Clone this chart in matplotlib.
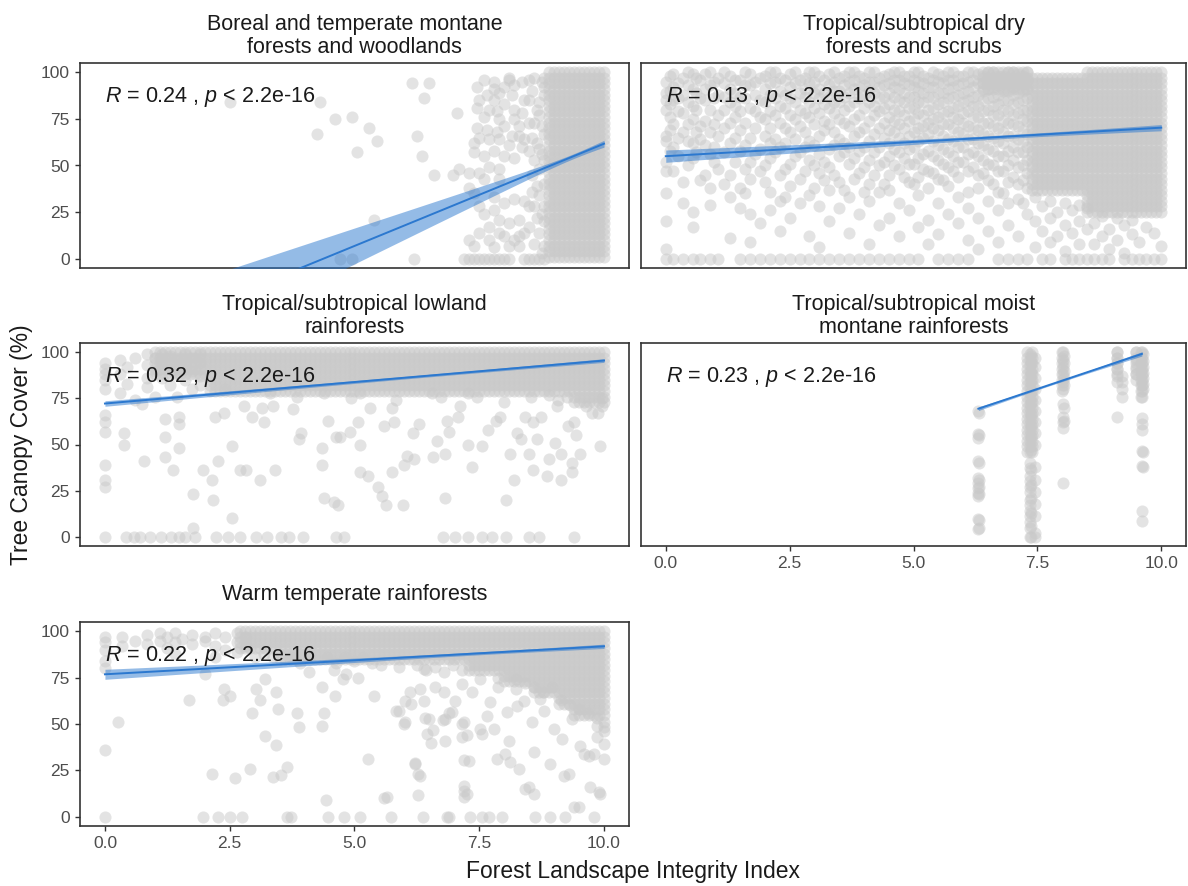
import numpy as np
import matplotlib
matplotlib.use("Agg")
import matplotlib.pyplot as plt

plt.rcParams['font.family'] = ['Liberation Sans', 'DejaVu Sans']
plt.rcParams['mathtext.fontset'] = 'custom'
plt.rcParams['mathtext.it'] = 'Liberation Sans:italic'
plt.rcParams['mathtext.rm'] = 'Liberation Sans'

# ---------------- data (x = Forest Landscape Integrity Index, y = Tree Canopy Cover %) ----------------
# individually readable points, grouped as (x, [y values at that x])
boreal_cols = [
    (2.5, [84]), (4.25, [67]), (4.3, [84]), (4.6, [75]), (4.7, [0]), (4.95, [76, 0]), (5.05, [57]),
    (5.3, [70]), (5.4, [21]), (5.45, [63]), (6.15, [94]), (6.2, [0]), (6.25, [66]), (6.35, [55]),
    (6.4, [86]), (6.5, [94]), (6.6, [45]), (6.98, [45]), (7.05, [78]), (7.1, [48]), (7.2, [0]),
    (7.3, [46, 38, 10, 0]), (7.4, [62, 57, 35, 7, 0]), (7.45, [92, 81, 70]),
    (7.5, [85, 65, 46, 28, 14, 0]), (7.6, [96, 76, 55, 43, 24, 0]), (7.65, [88, 69]),
    (7.7, [80, 64, 49, 17, 10, 0]), (7.8, [95, 91, 85, 58, 33, 26, 6, 0]), (7.85, [79, 68]),
    (7.9, [89, 75, 64, 48, 43, 21, 14, 0]), (8.0, [92, 83, 71, 55, 30, 12, 0]),
    (8.1, [97, 96, 61, 19, 7, 0]), (8.15, [88, 66]), (8.2, [93, 80, 75, 54, 32, 10]),
    (8.3, [71, 66, 21, 12, 7]), (8.35, [95, 78, 60]), (8.4, [85, 64, 31, 14, 0]),
    (8.5, [96, 85, 73, 58, 28, 17, 0]), (8.55, [90, 65, 45, 36]), (8.6, [97, 73, 53, 28, 8, 0]),
    (8.65, [80, 62, 39, 22]), (8.7, [84, 77, 59, 48, 34, 14, 0]), (8.75, [95, 71, 56, 24, 3]),
    (8.8, [97, 92, 88, 67, 53, 40, 28, 20, 7, 0]),
]

dry_cols = [
    (0.0, [95, 89, 85, 80, 66, 63, 52, 47, 35, 20, 5, 0]),
    (0.15, [99, 92, 85, 72, 60, 47, 0]), (0.35, [97, 88, 78, 68, 41, 30, 0]),
    (0.55, [99, 91, 82, 75, 62, 54, 25, 17, 0]), (0.7, [96, 86, 71, 64, 42, 0]),
    (0.9, [100, 93, 80, 68, 56, 38, 29, 0]), (1.05, [97, 88, 77, 66, 48, 0]),
    (1.3, [98, 91, 84, 73, 62, 45, 33, 11]), (1.5, [96, 87, 79, 69, 58, 38, 27, 0]),
    (1.7, [99, 93, 81, 65, 52, 43, 24, 9, 0]), (1.9, [97, 85, 76, 59, 47, 19, 0]),
    (2.1, [100, 94, 88, 79, 70, 62, 54, 36, 26, 0]), (2.3, [97, 90, 82, 73, 60, 45, 31, 15, 0]),
    (2.5, [99, 92, 86, 77, 68, 51, 39, 22, 0]), (2.7, [96, 89, 80, 71, 57, 43, 30, 0]),
    (2.9, [100, 94, 84, 76, 63, 53, 34, 12, 0]), (3.1, [98, 91, 86, 78, 66, 56, 46, 28, 6, 0]),
    (3.3, [99, 93, 87, 81, 72, 59, 49, 37, 20, 0]), (3.5, [97, 90, 84, 75, 64, 55, 41, 27, 0]),
    (3.7, [100, 95, 89, 82, 71, 60, 51, 33, 14, 0]), (3.9, [98, 92, 86, 77, 68, 58, 46, 24, 0]),
    (4.1, [100, 95, 90, 84, 74, 63, 53, 40, 31, 8, 0]), (4.3, [97, 92, 86, 79, 70, 60, 50, 36, 18, 0]),
    (4.5, [99, 94, 89, 83, 76, 69, 62, 55, 45, 37, 22, 0]),
    (4.7, [100, 96, 91, 85, 79, 72, 65, 57, 48, 30, 12, 0]),
    (4.9, [98, 93, 87, 81, 74, 66, 59, 51, 41, 26, 0]),
    (5.1, [100, 95, 90, 84, 78, 70, 63, 54, 44, 34, 17, 0]),
    (5.3, [97, 92, 87, 80, 73, 67, 58, 47, 38, 21, 8]),
    (5.5, [99, 95, 89, 83, 76, 69, 61, 53, 43, 30, 13, 0]),
    (5.7, [100, 96, 91, 86, 79, 72, 64, 57, 49, 39, 24, 0]),
    (5.9, [98, 93, 88, 82, 75, 68, 60, 52, 44, 33, 19, 0]),
    (6.1, [100, 95, 90, 85, 79, 71, 64, 56, 47, 36, 27, 10, 0]),
    (6.3, [99, 94, 88, 82, 76, 69, 62, 55, 45, 38, 22, 5]),
    (6.5, [100, 96, 91, 86, 80, 73, 66, 59, 51, 42, 31, 15]),
    (6.7, [98, 93, 88, 83, 77, 70, 63, 55, 47, 36, 26, 9, 0]),
    (6.9, [100, 95, 90, 85, 79, 73, 66, 58, 50, 41, 30, 18, 0]),
    (7.1, [99, 94, 89, 84, 78, 71, 64, 57, 49, 40, 32, 12, 0]),
    (7.3, [100, 96, 91, 86, 80, 74, 67, 60, 53, 46, 38, 24, 0]),
    (0.08, [98, 90, 83, 76, 69, 58]), (0.25, [94, 86, 79, 65, 55]), (0.45, [100, 93, 84, 72, 63, 50]),
    (0.62, [97, 89, 80, 68, 57]), (0.8, [99, 91, 85, 74, 61, 45]), (0.98, [95, 86, 72, 60, 52]),
    (1.17, [100, 94, 87, 80, 70, 57, 40]), (1.4, [96, 89, 82, 76, 65, 52]),
    (1.6, [100, 93, 86, 73, 61, 48, 35]), (1.8, [95, 88, 79, 70, 56]),
    (2.0, [98, 91, 84, 75, 66, 50, 41]), (2.2, [100, 95, 86, 77, 64, 57]),
    (2.4, [96, 88, 81, 70, 62, 48, 33]), (2.6, [100, 94, 84, 75, 64, 55]),
    (2.8, [97, 91, 87, 78, 68, 60, 47]), (3.0, [100, 95, 89, 81, 72, 61, 50, 38]),
    (3.2, [96, 89, 83, 74, 69, 52, 42]), (3.4, [100, 95, 90, 84, 78, 68, 61, 45]),
    (3.6, [98, 93, 87, 80, 73, 62, 57, 37]), (3.8, [100, 96, 91, 84, 75, 66, 54, 43]),
    (4.0, [97, 93, 88, 81, 70, 60, 49, 36]), (4.2, [100, 95, 89, 82, 77, 67, 57, 45]),
    (4.4, [98, 93, 87, 81, 73, 65, 52, 40]), (4.6, [100, 96, 92, 87, 80, 74, 68, 59, 50]),
    (4.8, [98, 94, 89, 84, 77, 70, 62, 54, 44]), (5.0, [100, 96, 92, 87, 81, 75, 68, 60, 51, 40]),
    (5.2, [98, 94, 89, 84, 77, 71, 65, 56, 48]), (5.4, [100, 96, 92, 87, 81, 75, 70, 63, 55, 46]),
    (5.6, [98, 94, 89, 84, 78, 72, 66, 59, 51, 42]), (5.8, [100, 96, 92, 87, 81, 76, 70, 63, 55, 47]),
    (6.0, [98, 94, 89, 84, 78, 73, 67, 60, 52]), (6.2, [100, 96, 92, 87, 82, 76, 70, 64, 57, 49]),
    (6.4, [98, 94, 90, 85, 79, 73, 67, 61, 53, 46]), (6.6, [100, 96, 92, 87, 82, 77, 71, 65, 58, 50, 40]),
    (6.8, [98, 94, 90, 85, 80, 74, 68, 62, 55, 47, 35]), (7.0, [100, 96, 92, 88, 83, 77, 72, 66, 60, 53, 44]),
    (7.2, [98, 94, 90, 85, 80, 75, 69, 63, 57, 50, 42, 30]),
    (7.45, [33, 20, 6]), (7.6, [28, 15, 0]), (7.75, [31, 22, 9, 0]), (7.9, [25, 12]),
    (8.05, [30, 18, 4, 0]), (8.2, [26, 14, 0]), (8.35, [29, 20, 8, 0]), (8.5, [27, 16, 0]),
    (8.65, [19, 8, 0]), (8.8, [23, 12, 0]), (8.95, [16, 5, 0]), (9.1, [22, 10]),
    (9.25, [18, 3, 0]), (9.4, [21, 13, 0]), (9.55, [9, 0]), (9.7, [17, 0]), (9.85, [14, 0]),
    (10.0, [7, 0]),
]

lowland_cols = [
    (0.0, [94, 91, 88, 85, 80, 66, 62, 57, 39, 31, 27, 0]),
    (0.3, [96, 88, 78]), (0.38, [56, 50]), (0.42, [0]), (0.45, [92, 83]), (0.59, [0]),
    (0.6, [97, 74]), (0.71, [0]), (0.75, [72]), (0.79, [41]), (0.85, [99, 93, 86, 81]),
    (0.91, [0]), (1.0, [97, 90, 76]), (1.12, [0]), (1.15, [99, 94, 86]), (1.2, [64, 54, 43]),
    (1.3, [98, 91, 82]), (1.32, [0]), (1.36, [36]), (1.45, [96, 89, 76]), (1.48, [65, 61, 48, 0]),
    (1.6, [99, 93, 85, 0]), (1.75, [97, 90, 80]), (1.77, [23, 5]), (1.81, [0]),
    (1.9, [99, 94, 87, 82]), (1.97, [36]),
    (2.41, [80]), (3.31, [78]), (3.85, [76]), (4.39, [78]), (4.93, [75]), (5.11, [78]),
    (5.83, [74]), (6.55, [78]), (6.73, [76]), (7.27, [78]), (7.45, [76]), (7.99, [73]),
    (8.53, [76]), (8.89, [77]), (9.07, [74]), (9.25, [76]),
    (2.14, [31]), (2.17, [20]), (2.2, [65]), (2.22, [0]), (2.26, [41]), (2.38, [67]), (2.46, [0]),
    (2.54, [49, 10]), (2.7, [36]), (2.71, [0]), (2.79, [71]), (2.83, [36]), (2.95, [65]), (3.03, [0]),
    (3.11, [31]), (3.15, [70]), (3.19, [62]), (3.24, [0]), (3.36, [71]), (3.4, [36]), (3.52, [0]),
    (3.68, [0]), (3.77, [69]), (3.89, [53]), (3.93, [56]), (3.97, [0]), (4.34, [48, 39]), (4.38, [21]),
    (4.46, [63]), (4.58, [19]), (4.62, [54, 0]), (4.66, [17]), (4.7, [54]), (4.78, [0]), (4.9, [57]),
    (5.07, [62]), (5.11, [50, 35]), (5.27, [33]), (5.31, [70]), (5.48, [27]), (5.56, [22]), (5.6, [60]),
    (5.64, [17]), (5.76, [35, 70]), (5.8, [62]), (5.97, [17]), (6.0, [39]), (6.05, [44]), (6.17, [56]),
    (6.2, [42]), (6.3, [61]), (6.58, [43]), (6.66, [52]), (6.78, [0]), (6.82, [21, 45]), (6.86, [63]),
    (6.9, [57]), (7.02, [0]), (7.07, [65]), (7.11, [71]), (7.27, [50, 0]), (7.35, [38]), (7.55, [49, 0]),
    (7.68, [58]), (7.76, [0]), (7.84, [63]), (7.92, [65]), (8.04, [20, 0]), (8.12, [45]), (8.2, [31]),
    (8.25, [56]), (8.33, [53]), (8.41, [65]), (8.49, [45, 0]), (8.57, [62, 36]), (8.65, [53]),
    (8.7, [0]), (8.74, [65]), (8.86, [33]), (8.9, [42]), (9.02, [51]), (9.06, [71]), (9.14, [45, 31]),
    (9.27, [60]), (9.35, [40, 35]), (9.39, [62, 0]), (9.43, [55]), (9.51, [45]), (9.63, [71]),
    (9.76, [67]), (9.88, [67]), (9.92, [49]), (9.96, [71, 75]),
]

montane_cols = [
    (6.31, [68, 55.5, 53.6, 41, 32, 29.3, 26.6, 23.9, 22, 9.4, 4]),
    (6.33, [67, 55, 40, 31, 27, 23, 9, 5]),
    (7.35, [99, 96, 93, 90, 87, 84, 81, 78, 75, 72, 70, 67, 64, 61, 58, 55, 52, 49, 46,
            40, 37, 33, 30, 27, 24, 20, 17, 14, 11, 8, 5, 0]),
    (7.38, [98, 94, 89, 85, 79, 73, 66, 60, 54, 47, 36, 28, 21, 13, 6, 0]),
    (7.45, [97, 92, 86, 80, 74, 68, 62, 56, 50, 38, 31, 24, 18, 11, 2, 0]),
    (8.01, [100, 96, 92, 88, 84, 80, 72, 65, 62, 59, 29]),
    (8.03, [98, 94, 90, 86, 82, 70, 63]),
    (9.11, [100, 97, 94, 91, 87, 84, 65]),
    (9.2, [87, 84, 80, 76]),
    (9.5, [100, 96, 92, 88]),
    (9.61, [100, 97, 94, 91, 88, 85, 82, 79, 76, 64.5, 61, 58, 46.4, 38.3, 14, 8.5]),
    (9.63, [99, 95, 92, 89, 86, 83, 80, 46, 38]),
]

warm_cols = [
    (0.0, [97, 94, 90, 84, 80, 36, 0]), (0.26, [51]), (0.35, [97, 92]), (0.6, [95]),
    (0.85, [98, 93]), (1.1, [99, 95]), (1.25, [97, 91]), (1.4, [99, 94, 88]), (1.55, [96]),
    (1.69, [63]), (1.75, [98, 93]), (1.97, [0]), (2.0, [97, 95, 77]), (2.14, [23]),
    (2.2, [99, 92, 86]), (2.26, [0]), (2.36, [63]), (2.38, [69]), (2.4, [97, 90]), (2.5, [65, 0]),
    (2.6, [21]), (2.75, [0]), (2.65, [99, 94, 89]), (2.83, [97, 92]),
    (3.01, [86]), (3.19, [88]), (3.37, [86]), (3.73, [86]), (3.91, [83]), (4.09, [86]),
    (4.45, [86]), (4.63, [83]), (4.81, [86]), (4.99, [84]), (5.17, [86]), (5.35, [83]),
    (5.53, [82]), (5.89, [81]), (6.25, [82]), (6.43, [79]), (6.61, [81]), (6.79, [78]),
    (6.97, [82]), (7.15, [79]), (7.51, [74]), (7.87, [75, 70]), (8.23, [74, 69]),
    (8.41, [72]), (8.59, [70]), (8.77, [67]), (8.95, [70]), (9.13, [63]), (9.31, [60]),
    (9.49, [58]), (9.67, [56]), (9.85, [53]), (10.0, [51, 46]),
    (2.91, [25.5]), (2.95, [56]), (3.03, [69]), (3.11, [63]), (3.21, [74, 43.6]), (3.37, [21.5]),
    (3.42, [67, 38.6]), (3.46, [58]), (3.52, [22.4]), (3.64, [27, 0]), (3.72, [0]), (3.85, [56]),
    (3.89, [48.5]), (4.09, [78]), (4.34, [70, 49]), (4.38, [56]), (4.42, [9]), (4.46, [0]),
    (4.58, [79]), (4.6, [65]), (4.77, [74.5]), (4.78, [0]), (4.82, [77]), (5.07, [75]), (5.11, [0]),
    (5.27, [31]), (5.4, [65]), (5.6, [10]), (5.65, [10.5]), (5.74, [0]), (5.84, [57]), (5.89, [57.2]),
    (5.99, [50]), (6.02, [62.6, 51]), (6.12, [67]), (6.13, [61]), (6.21, [29]), (6.22, [28.5]),
    (6.27, [23, 11.7]), (6.32, [68.9, 22.2]), (6.37, [0]), (6.39, [79.7, 62.6]), (6.41, [53]),
    (6.45, [44.7]), (6.49, [52.7]), (6.54, [39.5]), (6.58, [46.7]), (6.62, [69.8]), (6.78, [52]),
    (6.79, [67]), (6.82, [41, 52.7]), (6.85, [0]), (6.89, [0]), (6.9, [55.7]), (6.95, [56.3]),
    (7.02, [62.6]), (7.15, [50, 43, 71.6]), (7.19, [30.5, 14, 10.8, 51, 16.8]), (7.25, [43.8, 12.3]),
    (7.29, [30.3]), (7.32, [0]), (7.35, [67]), (7.52, [47.3]), (7.55, [44.7, 0]), (7.65, [54.5]),
    (7.69, [0]), (7.72, [61.7]), (7.79, [47.3]), (7.85, [31.2]), (7.95, [0]), (8.02, [33.9]),
    (8.05, [56.3]), (8.09, [41]), (8.12, [29.4]), (8.25, [59.9]), (8.29, [25.8]), (8.39, [62.6]),
    (8.42, [15]), (8.49, [15.9]), (8.55, [51]), (8.59, [34.8, 12.3]), (8.62, [0]), (8.72, [63.5]),
    (8.79, [57.2]), (8.92, [28.5, 0]), (8.99, [47.3]), (9.15, [42]), (9.19, [22.2]), (9.22, [0]),
    (9.29, [23.1]), (9.35, [52.7]), (9.39, [5.2]), (9.49, [5.2]), (9.52, [38.4]), (9.59, [33.9]),
    (9.69, [33]), (9.72, [15.9]), (9.79, [33.9, 0]), (9.85, [42.9, 49.1]), (9.89, [13.2]),
    (9.92, [12.3]), (10.0, [31.2, 48.2, 39.3]),
]

# solid masses of overlapping points, too dense to read one by one:
# (x from, x to, y from, y to), filled with the point spacing below
dense_x = [0.0, 0.1, 0.2, 0.3, 0.4, 0.5, 0.6, 0.7, 0.8, 0.9, 1.0, 1.1, 1.2, 1.3, 1.4, 1.5, 1.6,
           1.7, 1.8, 1.9, 2.0, 2.1, 2.2, 2.3, 2.4, 2.5, 2.6, 2.7, 2.8, 2.9, 3.0, 3.1, 3.2, 3.3,
           3.4, 3.5, 3.6, 3.7, 3.8, 3.9, 4.0, 4.1, 4.2, 4.3, 4.4, 4.5, 4.6, 4.7, 4.8, 4.9, 5.0,
           5.1, 5.2, 5.3, 5.4, 5.5, 5.6, 5.7, 5.8, 5.9, 6.0, 6.1, 6.2, 6.3, 6.4, 6.5, 6.6, 6.7,
           6.8, 6.9, 7.0, 7.1, 7.2, 7.3, 7.4, 7.5, 7.6, 7.7, 7.8, 7.9, 8.0, 8.1, 8.2, 8.3, 8.4,
           8.5, 8.6, 8.7, 8.8, 8.9, 9.0, 9.1, 9.2, 9.3, 9.4, 9.5, 9.6, 9.7, 9.8, 9.9, 10.0]
dense_y = [1, 4, 7, 10, 13, 16, 19, 22, 25, 28, 31, 34, 37, 40, 43, 46, 49, 52, 55, 58, 61,
           64, 67, 70, 73, 76, 79, 82, 85, 88, 91, 94, 97, 100]
boreal_dense = [(8.9, 10.0, 0, 100)]
dry_dense = [(8.5, 10.0, 25, 100), (7.4, 8.4, 37, 97), (6.4, 7.3, 91, 100)]
lowland_dense = [(2.1, 10.0, 79, 100), (1.0, 2.0, 88, 100), (9.4, 10.0, 73, 76)]
montane_dense = [(7.3, 7.4, 70, 100), (7.3, 7.4, 46, 67), (8.0, 8.0, 79, 100),
                 (9.6, 9.6, 76, 100), (9.1, 9.1, 88, 100), (9.5, 9.5, 85, 100)]
warm_dense = [(3.5, 10.0, 85, 100), (2.7, 3.4, 91, 100), (7.3, 10.0, 79, 82),
              (8.0, 10.0, 73, 76), (8.6, 10.0, 67, 70), (9.1, 10.0, 61, 64), (9.4, 10.0, 55, 58)]

# fitted line: x range, y at the ends; band: [x of narrowest, min half-width, half-width at start]
boreal_fit_x, boreal_fit_y, boreal_band = [2.5, 10.0], [-20.6, 61.7], [9.4, 1.3, 15.0]
dry_fit_x, dry_fit_y, dry_band = [0.0, 10.0], [55.0, 70.3], [7.0, 1.0, 3.3]
lowland_fit_x, lowland_fit_y, lowland_band = [0.0, 10.0], [72.2, 95.5], [6.5, 0.7, 1.5]
montane_fit_x, montane_fit_y, montane_band = [6.31, 9.61], [69.4, 99.1], [7.8, 0.5, 1.0]
warm_fit_x, warm_fit_y, warm_band = [0.0, 10.0], [76.8, 91.9], [7.5, 0.8, 2.7]

titles = [
    ["Boreal and temperate montane", "forests and woodlands"],
    ["Tropical/subtropical dry", "forests and scrubs"],
    ["Tropical/subtropical lowland", "rainforests"],
    ["Tropical/subtropical moist", "montane rainforests"],
    ["Warm temperate rainforests"],
]
r_values = ["0.24", "0.13", "0.32", "0.23", "0.22"]
p_label = "2.2e-16"
x_ticks = [0, 2.5, 5, 7.5, 10]
x_tick_labels = ["0.0", "2.5", "5.0", "7.5", "10.0"]
y_ticks = [0, 25, 50, 75, 100]
y_tick_labels = ["0", "25", "50", "75", "100"]

# ---------------- drawing ----------------
W, H = 1188, 886
fig = plt.figure(figsize=(W / 100, H / 100), dpi=100)


def ax_rect(left, top, right, bottom):
    return [left / W, (H - bottom) / H, (right - left) / W, (bottom - top) / H]


rects = [
    ax_rect(80, 63, 629, 268), ax_rect(641, 63, 1186, 268),
    ax_rect(80, 343, 629, 546), ax_rect(641, 343, 1186, 546),
    ax_rect(80, 622, 629, 826),
]
panel_data = [boreal_cols, dry_cols, lowland_cols, montane_cols, warm_cols]
panel_dense = [boreal_dense, dry_dense, lowland_dense, montane_dense, warm_dense]
fits = [(boreal_fit_x, boreal_fit_y, boreal_band), (dry_fit_x, dry_fit_y, dry_band),
        (lowland_fit_x, lowland_fit_y, lowland_band), (montane_fit_x, montane_fit_y, montane_band),
        (warm_fit_x, warm_fit_y, warm_band)]
show_x = [False, False, False, True, True]
show_y = [True, False, True, False, True]

line_col = '#2B78CF'
text_col = '#1A1A1A'
tick_col = '#4D4D4D'
frame_col = '#333333'
eps = 1e-6

for i in range(5):
    ax = fig.add_axes(rects[i])
    xs, ys = [], []
    for x, yl in panel_data[i]:
        for y in yl:
            xs.append(x)
            ys.append(y)
    for x0, x1, y0, y1 in panel_dense[i]:
        for x in dense_x:
            if x0 - eps <= x <= x1 + eps:
                for y in dense_y:
                    if y0 - eps <= y <= y1 + eps:
                        xs.append(x)
                        ys.append(y)
    ax.scatter(xs, ys, s=76, color='#C9C9C9', alpha=0.5, linewidths=0, zorder=2)

    fx, fy, band = fits[i]
    gx = np.linspace(fx[0], fx[1], 300)
    gy = fy[0] + (fy[1] - fy[0]) * (gx - fx[0]) / (fx[1] - fx[0])
    m, hmin, hstart = band
    b = (hstart ** 2 - hmin ** 2) / (fx[0] - m) ** 2
    hw = np.sqrt(hmin ** 2 + b * (gx - m) ** 2)
    ax.fill_between(gx, gy - hw, gy + hw, color=line_col, alpha=0.5, linewidth=0, zorder=3)
    ax.plot(gx, gy, color=line_col, lw=1.4, zorder=4)

    ax.text(0.0, 84, r"$R$ = %s , $p$ < %s" % (r_values[i], p_label), fontsize=15.5,
            color=text_col, ha='left', va='baseline', zorder=5)

    ax.set_xlim(-0.5, 10.5)
    ax.set_ylim(-5, 105)
    ax.set_xticks(x_ticks)
    ax.set_xticklabels(x_tick_labels)
    ax.set_yticks(y_ticks)
    ax.set_yticklabels(y_tick_labels)
    ax.tick_params(axis='both', colors=frame_col, labelcolor=tick_col, labelsize=12.5,
                   length=3.5, width=1.0, pad=4)
    ax.tick_params(axis='x', bottom=show_x[i], labelbottom=show_x[i])
    ax.tick_params(axis='y', left=show_y[i], labelleft=show_y[i])
    for sp in ax.spines.values():
        sp.set_color(frame_col)
        sp.set_linewidth(1.2)

    lines = titles[i]
    h_px = (rects[i][3]) * H
    offs = [32.6, 10.3] if len(lines) == 2 else [21.7]
    for line, off in zip(lines, offs):
        ax.text(0.5, 1 + off / h_px, line, transform=ax.transAxes, ha='center', va='baseline',
                fontsize=15.5, color=text_col)

fig.text(633 / W, (H - 878) / H, "Forest Landscape Integrity Index", ha='center', va='baseline',
         fontsize=16.5, color=text_col)
fig.text(22 / W, (H - 445) / H, "Tree Canopy Cover (%)", ha='center', va='center', rotation=90,
         fontsize=16.5, color=text_col)

fig.savefig("out.png", dpi=100, facecolor='white')
